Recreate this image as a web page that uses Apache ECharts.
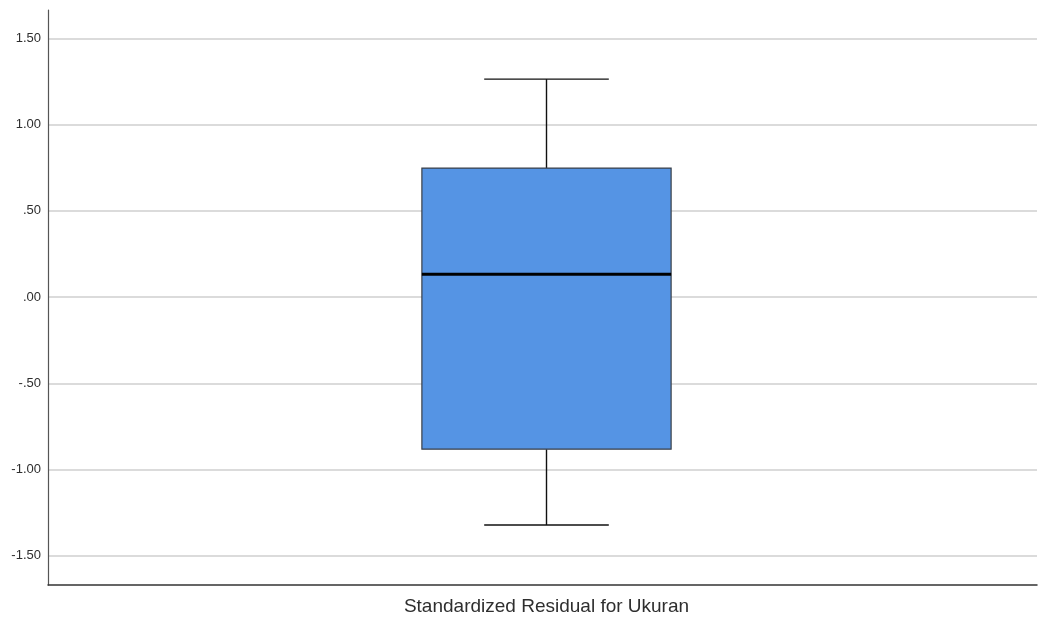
<!DOCTYPE html>
<html>
<head>
<meta charset="utf-8">
<script src="https://cdn.jsdelivr.net/npm/echarts@6/dist/echarts.min.js"></script>
<style>
  html, body { margin: 0; padding: 0; background: #ffffff; }
  #chart { width: 1039px; height: 618px; }
</style>
</head>
<body>
<div id="chart"></div>
<script>
// Box-and-whisker summary of the standardized residuals
const categories = ['Standardized Residual for Ukuran'];
const whiskerLow = [-1.322];
const quartile1 = [-0.882];
const medians = [0.133];
const quartile3 = [0.748];
const whiskerHigh = [1.264];
const tickValues = [-1.5, -1.0, -0.5, 0.0, 0.5, 1.0, 1.5];

const boxData = categories.map((c, i) => [i, whiskerLow[i], quartile1[i], medians[i], quartile3[i], whiskerHigh[i]]);

// SPSS-style number format: drop the leading zero (".50", "-.50")
function fmt(v) {
  let s = Math.abs(v).toFixed(2);
  if (s.startsWith('0')) s = s.slice(1);
  return (v < 0 ? '-' : '') + s;
}

function renderBox(params, api) {
  const idx = api.value(0);
  const band = api.size([1, 0])[0];
  const boxW = band * 0.252;
  const capW = boxW / 2;
  const pLow = api.coord([idx, api.value(1)]);
  const pQ1 = api.coord([idx, api.value(2)]);
  const pMed = api.coord([idx, api.value(3)]);
  const pQ3 = api.coord([idx, api.value(4)]);
  const pHigh = api.coord([idx, api.value(5)]);
  const cx = pMed[0] + 4;
  const lineStyle = { stroke: '#111111', lineWidth: 1.4 };
  return {
    type: 'group',
    children: [
      { type: 'line', shape: { x1: cx, y1: pHigh[1], x2: cx, y2: pQ3[1] }, style: lineStyle },
      { type: 'line', shape: { x1: cx, y1: pQ1[1], x2: cx, y2: pLow[1] }, style: lineStyle },
      { type: 'line', shape: { x1: cx - capW / 2, y1: pHigh[1], x2: cx + capW / 2, y2: pHigh[1] }, style: lineStyle },
      { type: 'line', shape: { x1: cx - capW / 2, y1: pLow[1], x2: cx + capW / 2, y2: pLow[1] }, style: lineStyle },
      { type: 'rect', shape: { x: cx - boxW / 2, y: pQ3[1], width: boxW, height: pQ1[1] - pQ3[1] },
        style: { fill: '#5594e4', stroke: '#3a3f48', lineWidth: 1.2 } },
      { type: 'line', shape: { x1: cx - boxW / 2, y1: pMed[1], x2: cx + boxW / 2, y2: pMed[1] },
        style: { stroke: '#000000', lineWidth: 3 } }
    ]
  };
}

const chart = echarts.init(document.getElementById('chart'), null, { renderer: 'canvas' });
chart.setOption({
  animation: false,
  backgroundColor: '#ffffff',
  grid: { left: 48, right: 2, top: 10, bottom: 33, containLabel: false },
  xAxis: {
    type: 'category',
    data: categories,
    boundaryGap: true,
    axisLine: { show: true, onZero: false, lineStyle: { color: '#333333', width: 1.5 } },
    axisTick: { show: false },
    axisLabel: {
      color: '#2e2e2e',
      fontSize: 19,
      fontFamily: 'Liberation Sans, Arial, sans-serif',
      margin: 12,
      padding: [0, 0, 0, 8]
    },
    splitLine: { show: false }
  },
  yAxis: {
    type: 'value',
    min: -1.67,
    max: 1.665,
    axisLine: { show: true, lineStyle: { color: '#555555', width: 1.2 } },
    axisTick: { show: false, customValues: tickValues },
    axisLabel: {
      customValues: tickValues,
      formatter: fmt,
      color: '#2e2e2e',
      fontSize: 13,
      fontFamily: 'Liberation Sans, Arial, sans-serif',
      margin: 7
    },
    splitLine: { show: true, lineStyle: { color: '#cfcfcf', width: 1.5 } }
  },
  series: [{
    type: 'custom',
    renderItem: renderBox,
    encode: { x: 0, y: [1, 2, 3, 4, 5] },
    data: boxData,
    z: 5
  }]
});
</script>
</body>
</html>
